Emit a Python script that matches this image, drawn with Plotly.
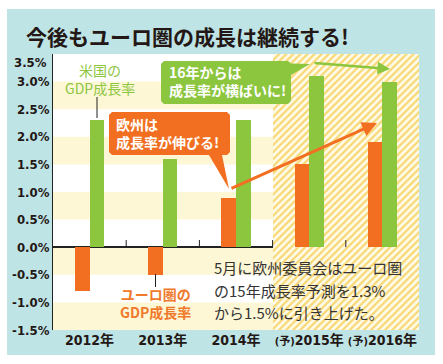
import plotly.graph_objects as go

# ---- data ----
years = ["2012年", "2013年", "2014年", "(予)2015年", "(予)2016年"]
euro_gdp = [-0.8, -0.5, 0.9, 1.5, 1.9]
us_gdp = [2.3, 1.6, 2.3, 3.1, 3.0]
y_ticks = [-1.5, -1.0, -0.5, 0.0, 0.5, 1.0, 1.5, 2.0, 2.5, 3.0]
y_top_tick = 3.5
forecast_span = [2.5, 4.5]          # category index range of forecasts
band_ranges = [(2.5, 3.0), (1.5, 2.0), (0.5, 1.0), (-0.5, 0.0), (-1.5, -1.0)]

W, H = 443, 364
L, R, T, B = 53, 419, 54, 330   # plot area in pixels

ORANGE = "#f26f21"
GREEN = "#8cc63f"
CYAN = "#bfe4e6"
PALE = "#fdf7d6"
CJK = "Noto Sans CJK JP"
NARROW = "Liberation Sans Narrow, DejaVu Sans Condensed, Noto Sans CJK JP"


def px(x):
    return (x - L) / (R - L)


def py(y):
    return (B - y) / (B - T)


def path_px(points, close=True):
    s = ""
    for i, (x, y) in enumerate(points):
        s += ("M" if i == 0 else "L") + f"{px(x):.5f},{py(y):.5f} "
    return s + ("Z" if close else "")


xs = list(range(len(years)))

fig = go.Figure()

# hatched forecast area
fig.add_trace(go.Bar(
    x=[sum(forecast_span) / 2], y=[5.0], base=[-1.5],
    width=[forecast_span[1] - forecast_span[0]],
    marker=dict(color="rgba(0,0,0,0)", line=dict(width=0),
                pattern=dict(shape="/", fgcolor="#f8d873", bgcolor="#fffbea",
                             size=5, solidity=0.45, fillmode="replace")),
    hoverinfo="skip", showlegend=False))

fig.add_trace(go.Bar(x=xs, y=euro_gdp, width=0.2, offset=-0.2,
                     marker=dict(color=ORANGE, line=dict(width=0)),
                     name="ユーロ圏", showlegend=False))
fig.add_trace(go.Bar(x=xs, y=us_gdp, width=0.2, offset=0.0,
                     marker=dict(color=GREEN, line=dict(width=0)),
                     name="米国", showlegend=False))

shapes = []
# cyan frame
shapes.append(dict(type="rect", xref="paper", yref="paper",
                   x0=px(7), x1=px(435), y0=py(355), y1=py(9),
                   fillcolor=CYAN, line=dict(width=0), layer="below"))
# white plot area
shapes.append(dict(type="rect", xref="x", yref="y", x0=-0.5, x1=4.5, y0=-1.5, y1=3.5,
                   fillcolor="white", line=dict(width=0), layer="below"))
for a, b in band_ranges:
    shapes.append(dict(type="rect", xref="x", yref="y", x0=-0.5, x1=4.5, y0=a, y1=b,
                       fillcolor=PALE, line=dict(width=0), layer="below"))
# category dividers on zero line
for xv in [0.5, 1.5, 2.5, 3.5]:
    shapes.append(dict(type="line", xref="x", yref="y", x0=xv, x1=xv, y0=0, y1=0.13,
                       line=dict(color="#222", width=1)))

# leader lines
shapes.append(dict(type="line", xref="paper", yref="paper",
                   x0=px(97), x1=px(97), y0=py(97), y1=py(118),
                   line=dict(color="#222", width=1)))
shapes.append(dict(type="line", xref="paper", yref="paper",
                   x0=px(155.5), x1=px(155.5), y0=py(274), y1=py(287),
                   line=dict(color="#222", width=1)))

# green callout
shapes.append(dict(type="path", xref="paper", yref="paper",
                   path=path_px([(164, 61), (288, 61), (291, 63.5), (310, 64),
                                 (291, 75), (291, 101), (288, 104), (164, 104),
                                 (161, 101), (161, 64)]),
                   fillcolor=GREEN, line=dict(width=0)))
# orange callout
shapes.append(dict(type="path", xref="paper", yref="paper",
                   path=path_px([(112, 112), (227, 112), (230, 115), (230, 152),
                                 (227, 155), (222, 155), (229, 189), (209, 155),
                                 (112, 155), (109, 152), (109, 115)]),
                   fillcolor=ORANGE, line=dict(width=0)))

annotations = []


def txt(text, x, y, size, color, xanchor="left", bold=False, family=CJK, align="left"):
    annotations.append(dict(text=text, x=px(x), y=py(y), xref="paper", yref="paper",
                            xanchor=xanchor, yanchor="middle", showarrow=False,
                            align=align,
                            font=dict(size=size, color=color, family=family,
                                      weight="bold" if bold else "normal")))


# title
txt("今後もユーロ圏の成長は継続する!", 24, 36, 21, "#231815", bold=True)
# top y tick label (drawn slightly below its tick, as in the original)
txt(f"{y_top_tick:.1f}%", 49, 62, 13, "#231815", xanchor="right", bold=True, family=NARROW)
# labels
txt("米国の<br>GDP成長率", 100, 79, 14, "#8dc63f", xanchor="center", align="center")
txt("ユーロ圏の<br>GDP成長率", 155, 303, 14, "#f07a2c", xanchor="center", bold=True,
    align="center")
# callout texts
txt("16年からは<br>成長率が横ばいに!", 167, 81, 14, "white", bold=True)
txt("欧州は<br>成長率が伸びる!", 114, 133, 14, "white", bold=True)
# note
txt("5月に欧州委員会はユーロ圏", 212, 267, 15, "#333333")
txt("の15年成長率予測を1.3%", 212, 290, 15, "#333333")
txt("から1.5%に引き上げた。", 212, 312, 15, "#333333")

# arrows
annotations.append(dict(x=px(390), y=py(69), xref="paper", yref="paper",
                        ax=313 - 390, ay=63 - 69, showarrow=True, text="",
                        arrowcolor=GREEN, arrowwidth=2.5, arrowhead=2, arrowsize=1))
annotations.append(dict(x=px(377), y=py(123), xref="paper", yref="paper",
                        ax=230 - 377, ay=189 - 123, showarrow=True, text="",
                        arrowcolor=ORANGE, arrowwidth=3, arrowhead=2, arrowsize=1))

ticktext_x = [t.replace("(予)", "<span style='font-size:11px'>(予)</span>") for t in years]

fig.update_layout(
    width=W, height=H,
    margin=dict(l=L, r=W - R, t=T, b=H - B, pad=0),
    paper_bgcolor="white", plot_bgcolor="white",
    barmode="overlay", bargap=0,
    shapes=shapes, annotations=annotations,
    xaxis=dict(range=[-0.5, 4.5], tickvals=xs, ticktext=ticktext_x,
               showgrid=False, zeroline=False, showline=False, ticks="",
               tickfont=dict(family=NARROW, size=14, color="#231815", weight="bold"),
               fixedrange=True),
    yaxis=dict(range=[-1.5, 3.5], tickvals=y_ticks,
               ticktext=[f"{v:.1f}%" for v in y_ticks],
               showgrid=False, zeroline=True, zerolinecolor="#222", zerolinewidth=1.5,
               showline=True, linecolor="#222", linewidth=1, ticks="",
               tickfont=dict(family=NARROW, size=13, color="#231815", weight="bold"),
               fixedrange=True),
)

fig.write_html("out.html", config={"displayModeBar": False},
               post_script="document.body.style.margin='0';")
